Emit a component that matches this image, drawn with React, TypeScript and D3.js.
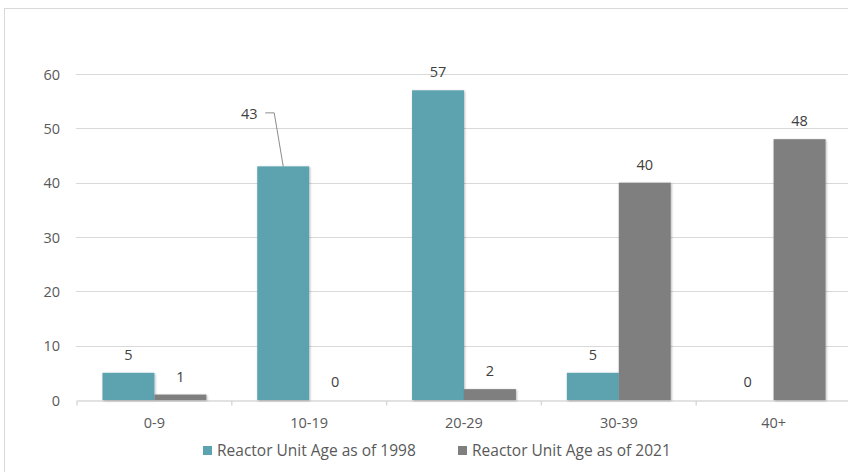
import {useEffect, useRef} from "react";
import * as d3 from "d3";

const categories = ["0-9", "10-19", "20-29", "30-39", "40+"];
const series1998 = [5, 43, 57, 5, 0];
const series2021 = [1, 0, 2, 40, 48];
const seriesNames = ["Reactor Unit Age as of 1998", "Reactor Unit Age as of 2021"];
const seriesColors = ["#5BA3AF", "#7F7F7F"];
const yTicks = [0, 10, 20, 30, 40, 50, 60];

const App = () => {
  const refChart = useRef(null);

  useEffect(() => {
    document.body.style.margin = "0";
    const el = refChart.current;
    if (!el) return;
    d3.select(el).selectAll("*").remove();
    drawChart(el);
  }, [refChart]);

  return <div ref={refChart}></div>;
};

const drawChart = (element: HTMLElement) => {
  const width = 848;
  const height = 472;
  const margin = {top: 74, right: -3, bottom: 72, left: 77};
  const font = "'Open Sans', 'Noto Sans', sans-serif";
  const fs = 14.5;

  const svg = d3.select(element)
    .append("svg")
    .attr("width", width)
    .attr("height", height)
    .style("display", "block")
    .style("font-family", font);

  svg.append("rect").attr("width", width).attr("height", height).attr("fill", "#fff");

  // ombre légère sous les barres
  const defs = svg.append("defs");
  defs.append("filter")
    .attr("id", "shadow")
    .attr("x", "-20%").attr("y", "-20%").attr("width", "140%").attr("height", "140%")
    .append("feDropShadow")
    .attr("dx", 0.8).attr("dy", 0.8).attr("stdDeviation", 1.2)
    .attr("flood-color", "#000").attr("flood-opacity", 0.3);

  // cadre du graphique
  svg.append("rect")
    .attr("x", 4.5).attr("y", 8.5)
    .attr("width", 900).attr("height", 500)
    .attr("fill", "none")
    .attr("stroke", "#d9d9d9");

  const plotW = width - margin.left - margin.right;
  const plotBottom = height - margin.bottom;

  const x0 = d3.scaleBand()
    .domain(categories)
    .range([margin.left, margin.left + plotW])
    .paddingInner(0)
    .paddingOuter(0);

  const x1 = d3.scaleBand()
    .domain(["a", "b"])
    .range([0, x0.bandwidth()])
    .paddingOuter(0.49)
    .paddingInner(0);

  const y = d3.scaleLinear()
    .domain([0, 60])
    .range([plotBottom, margin.top]);

  // lignes de grille
  svg.append("g")
    .selectAll("line")
    .data(yTicks.filter(t => t > 0))
    .enter()
    .append("line")
    .attr("x1", margin.left - 1)
    .attr("x2", width)
    .attr("y1", d => Math.round(y(d)) + 0.5)
    .attr("y2", d => Math.round(y(d)) + 0.5)
    .attr("stroke", "#d9d9d9")
    .attr("stroke-width", 1);

  // étiquettes de l'axe Y
  svg.append("g")
    .selectAll("text")
    .data(yTicks)
    .enter()
    .append("text")
    .attr("x", 60)
    .attr("y", d => y(d) + 5.5)
    .attr("text-anchor", "end")
    .attr("font-size", fs)
    .attr("fill", "#595959")
    .text(d => d);

  // axe X
  const xAxis = d3.axisBottom(x0).tickSize(0).tickPadding(17);
  const xg = svg.append("g")
    .attr("transform", "translate(0," + (plotBottom + 0.5) + ")")
    .call(xAxis);
  xg.select(".domain").attr("stroke", "#d9d9d9").attr("stroke-width", 1.5);
  xg.selectAll("text")
    .attr("font-size", fs)
    .attr("fill", "#595959")
    .attr("font-family", font);

  // petites graduations aux limites des catégories
  const bounds = categories.map(c => x0(c) as number);
  xg.selectAll(".bound")
    .data(bounds)
    .enter()
    .append("line")
    .attr("class", "bound")
    .attr("x1", d => d)
    .attr("x2", d => d)
    .attr("y1", 0)
    .attr("y2", 5)
    .attr("stroke", "#d9d9d9")
    .attr("stroke-width", 1.5);

  const allSeries = [series1998, series2021];
  const keys = ["a", "b"];

  allSeries.forEach((values, si) => {
    const g = svg.append("g");
    g.selectAll("rect")
      .data(values)
      .enter()
      .append("rect")
      .attr("x", (d, i) => (x0(categories[i]) as number) + (x1(keys[si]) as number))
      .attr("y", d => y(d))
      .attr("width", x1.bandwidth())
      .attr("height", d => y(0) - y(d))
      .attr("fill", seriesColors[si])
      .attr("filter", d => d > 0 ? "url(#shadow)" : null);
  });

  // étiquettes de valeurs
  allSeries.forEach((values, si) => {
    const g = svg.append("g");
    values.forEach((v, i) => {
      const cx = (x0(categories[i]) as number) + (x1(keys[si]) as number) + x1.bandwidth() / 2;
      const top = y(v);
      if (si === 0 && i === 1) {
        // étiquette déplacée avec ligne de rappel
        g.append("path")
          .attr("d", `M${cx - 18},${top - 53.5} L${cx - 9},${top - 53.5} L${cx},${top}`)
          .attr("fill", "none")
          .attr("stroke", "#8c8c8c")
          .attr("stroke-width", 1);
        g.append("text")
          .attr("x", cx - 34)
          .attr("y", top - 47)
          .attr("text-anchor", "middle")
          .attr("font-size", fs)
          .attr("fill", "#404040")
          .text(v);
        return;
      }
      g.append("text")
        .attr("x", cx)
        .attr("y", top - 13)
        .attr("text-anchor", "middle")
        .attr("font-size", fs)
        .attr("fill", "#404040")
        .text(v);
    });
  });

  // légende
  const legend = svg.append("g").attr("transform", "translate(203,446)");
  const legendX = [0, 255];
  seriesNames.forEach((name, i) => {
    const item = legend.append("g").attr("transform", `translate(${legendX[i]},0)`);
    item.append("rect")
      .attr("width", 9)
      .attr("height", 9)
      .attr("fill", seriesColors[i]);
    item.append("text")
      .attr("x", 14)
      .attr("y", 10)
      .attr("font-size", 15.5)
      .attr("fill", "#595959")
      .text(name);
  });
};

export default App;
